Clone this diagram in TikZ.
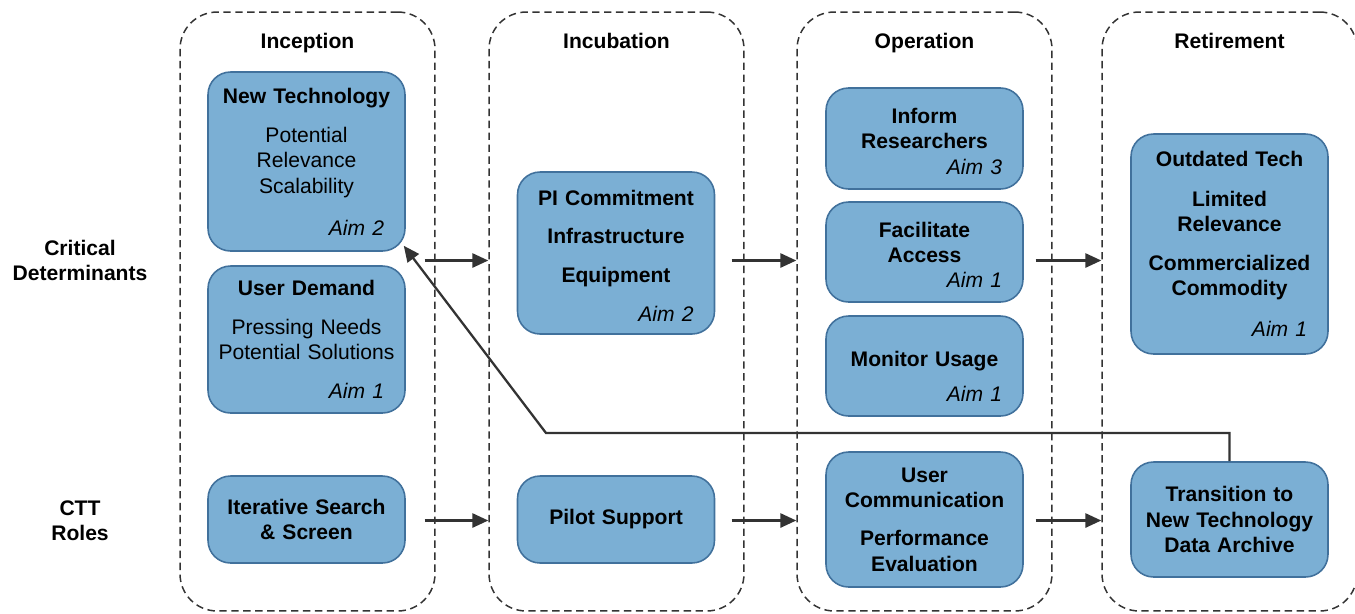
\documentclass[tikz,border=0pt]{standalone}
\usepackage{fontspec}
\setmainfont{Liberation Sans}
\usetikzlibrary{arrows.meta,calc,positioning}

\definecolor{boxfill}{HTML}{7BAFD4}
\definecolor{boxline}{HTML}{41719C}
\definecolor{lanegray}{HTML}{333333}
\definecolor{arrowgray}{HTML}{333333}

% right aligned aim tag at the foot of a box
\newcommand{\aimtag}[1]{\makebox[3.7cm][r]{\mdseries\itshape Aim #1\hspace*{0.3cm}}}

\tikzset{
    %Define style for lanes
    lane/.style={
        rectangle,
        draw=lanegray,
        line width=0.85pt,
        dash pattern=on 4.2pt off 2.6pt,
        rounded corners=0.74cm,
        minimum width=5.1cm,
        minimum height=11.98cm,
    },
    proc/.style={
        rectangle,
        rounded corners=0.45cm,
        draw=boxline, line width=0.9pt,
        fill=boxfill,
        text width=3.74cm,
        inner xsep=0.1cm,
        inner ysep=0pt,
        align=center,
        font=\bfseries\fontsize{12}{14.4}\selectfont,
    },
    txt/.style={
        draw = none,
        align = center,
        font = \bfseries\fontsize{12}{14.4}\selectfont,
    },
    flow/.style={
        draw=arrowgray,
        line width=1.3pt,
        -{Triangle[length=9pt,width=8pt]},
    },
}

\begin{document}
\begin{tikzpicture}[x=0.02cm, y=-0.02cm]
    \useasboundingbox (0,0) rectangle (1355,613);
    \clip (0,0) rectangle (1355,613);

    % lanes
    \node[lane] (inception) at (307.5,311.5) {};
    \node[lane] (incubation) at (616.5,311.5) {};
    \node[lane] (operation) at (924.5,311.5) {};
    \node[lane] (retirement) at (1229.5,311.5) {};

    \node[txt, anchor=base] (inception-t) at (307.5,48.5) {Inception};
    \node[txt, anchor=base] (incubation-t) at (616.5,48.5) {Incubation};
    \node[txt, anchor=base] (operation-t) at (924.5,48.5) {Operation};
    \node[txt, anchor=base] (retirement-t) at (1229.5,48.5) {Retirement};

    % row labels
    \node[txt] (cd) at (80,260.5) {Critical\\ Determinants};
    \node[txt] (ctt) at (80,520.5) {CTT\\ Roles};

    % inception
    \node[proc, minimum height=3.58cm] (nt) at (306.5,161.5)
        {New Technology\\[8pt] \mdseries Potential\\ \mdseries Relevance\\ \mdseries Scalability\\[9.5pt] \aimtag{2}};
    \node[proc, minimum height=2.94cm] (ud) at (306.5,339.5)
        {User Demand\\[7.5pt] \mdseries Pressing Needs\\ \mdseries Potential Solutions\\[8pt] \aimtag{1}};
    \node[proc, minimum height=1.74cm] (iss) at (306.5,519.5)
        {Iterative Search\\ \& Screen};

    % incubation
    \node[proc, minimum height=3.24cm] (pi) at (616,253)
        {\rule{0pt}{12pt}PI Commitment\\[7.5pt] Infrastructure\\[7.5pt] Equipment\\[8pt] \aimtag{2}};
    \node[proc, minimum height=1.74cm] (ps) at (616,519.5)
        {Pilot Support};

    % operation
    \node[proc, minimum height=2.02cm] (ir) at (924.5,138.5)
        {\rule{0pt}{12pt}Inform\\ Researchers\\ \aimtag{3}};
    \node[proc, minimum height=2cm] (fa) at (924.5,252)
        {\rule{0pt}{12pt}Facilitate\\ Access\\ \aimtag{1}};
    \node[proc, minimum height=2cm] (mu) at (924.5,366)
        {\rule{0pt}{21pt}Monitor Usage\\[5.5pt] \aimtag{1}};
    \node[proc, minimum height=2.7cm] (uc) at (924.5,519.5)
        {User\\ Communication\\[7.5pt] Performance\\ Evaluation};

    % retirement
    \node[proc, minimum height=4.4cm] (ot) at (1229.5,244)
        {Outdated Tech\\[8pt] Limited\\ Relevance\\[7.5pt] Commercialized\\ Commodity\\[9pt] \aimtag{1}};
    \node[proc, minimum height=2.3cm] (tr) at (1229.5,519.5)
        {Transition to\\ New Technology\\ Data Archive};

    % stage arrows
    \draw[flow] ($(inception.east |- cd)+(-11,0)$) -- (incubation.west |- cd);
    \draw[flow] ($(incubation.east |- cd)+(-13,0)$) -- (operation.west |- cd);
    \draw[flow] ($(operation.east |- cd)+(-17,0)$) -- (retirement.west |- cd);
    \draw[flow] ($(inception.east |- ctt)+(-11,0)$) -- (incubation.west |- ctt);
    \draw[flow] ($(incubation.east |- ctt)+(-13,0)$) -- (operation.west |- ctt);
    \draw[flow] ($(operation.east |- ctt)+(-17,0)$) -- (retirement.west |- ctt);

    % feedback
    \coordinate (fb) at (546,433);
    \draw[flow] (tr.north) |- (fb) -- ($(nt.south east)+(-2,-6)$);
\end{tikzpicture}
\end{document}
